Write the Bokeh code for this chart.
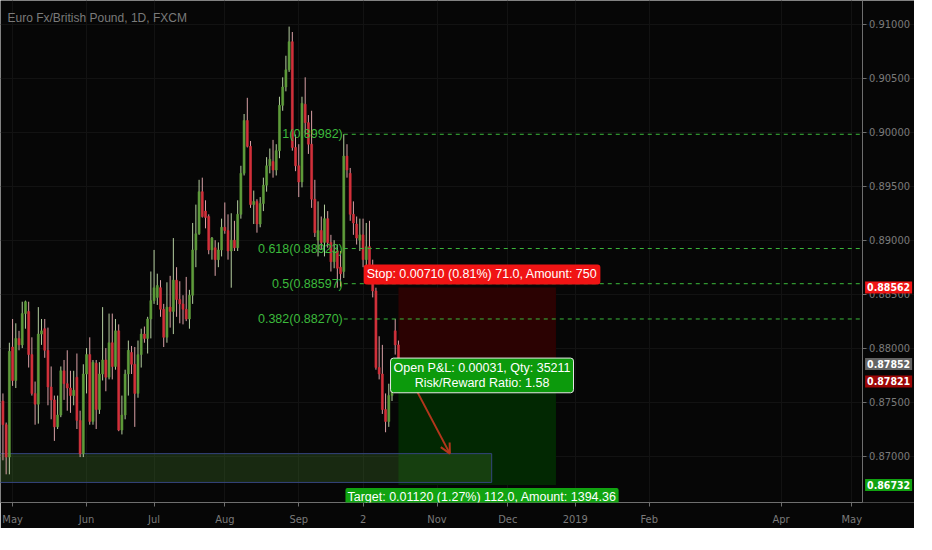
import pandas as pd
from bokeh.plotting import figure
from bokeh.models import (FixedTicker, NumeralTickFormatter, Label, Arrow, OpenHead,
                          ColumnDataSource, Range1d)
from bokeh.embed import file_html
from bokeh.resources import INLINE

# ---------------- data ----------------
title_text = "Euro Fx/British Pound, 1D, FXCM"
first_day = "2018-04-26"

opens = [0.8751, 0.8729, 0.8699, 0.8801, 0.8770, 0.8809, 0.8803, 0.8832, 0.8834, 0.8794,
         0.8758, 0.8748, 0.8813, 0.8818, 0.8798, 0.8764, 0.8752, 0.8727, 0.8738, 0.8779,
         0.8767, 0.8763, 0.8756, 0.8773, 0.8733, 0.8702, 0.8776, 0.8794, 0.8732, 0.8786,
         0.8743, 0.8776, 0.8789, 0.8773, 0.8805, 0.8783, 0.8816, 0.8724, 0.8738, 0.8776,
         0.8796, 0.8785, 0.8758, 0.8794, 0.8813, 0.8809, 0.8827, 0.8844, 0.8847, 0.8856,
         0.8836, 0.8810, 0.8838, 0.8834, 0.8863, 0.8845, 0.8841, 0.8836, 0.8827, 0.8849,
         0.8891, 0.8906, 0.8945, 0.8927, 0.8922, 0.8891, 0.8893, 0.8882, 0.8891, 0.8912,
         0.8909, 0.8890, 0.8900, 0.8893, 0.8924, 0.8962, 0.9011, 0.8987, 0.8933, 0.8936,
         0.8915, 0.8934, 0.8951, 0.8969, 0.8973, 0.8965, 0.8983, 0.9025, 0.9042, 0.9058,
         0.9084, 0.8986, 0.8969, 0.8954, 0.9026, 0.9009, 0.8989, 0.8938, 0.8900, 0.8909,
         0.8898, 0.8920, 0.8898, 0.8880, 0.8890, 0.8875, 0.8871, 0.8978, 0.8962, 0.8924,
         0.8915, 0.8900, 0.8905, 0.8882, 0.8894, 0.8876, 0.8853, 0.8782, 0.8776, 0.8743,
         0.8732, 0.8756, 0.8816, 0.8803]
highs = [0.8758, 0.8731, 0.8805, 0.8827, 0.8823, 0.8816, 0.8843, 0.8844, 0.8843, 0.8810,
         0.8769, 0.8838, 0.8827, 0.8827, 0.8819, 0.8783, 0.8756, 0.8756, 0.8783, 0.8789,
         0.8798, 0.8779, 0.8779, 0.8795, 0.8742, 0.8785, 0.8800, 0.8810, 0.8789, 0.8789,
         0.8787, 0.8838, 0.8800, 0.8832, 0.8832, 0.8827, 0.8822, 0.8756, 0.8780, 0.8807,
         0.8802, 0.8801, 0.8807, 0.8818, 0.8820, 0.8829, 0.8871, 0.8891, 0.8869, 0.8863,
         0.8841, 0.8861, 0.8867, 0.8902, 0.8875, 0.8862, 0.8849, 0.8866, 0.8854, 0.8916,
         0.8933, 0.8956, 0.8958, 0.8937, 0.8924, 0.8903, 0.8900, 0.8898, 0.8920, 0.8935,
         0.8924, 0.8925, 0.8918, 0.8937, 0.8969, 0.9017, 0.9032, 0.8992, 0.8946, 0.8938,
         0.8940, 0.8958, 0.8977, 0.8985, 0.8993, 0.8989, 0.9033, 0.9051, 0.9071, 0.9098,
         0.9093, 0.8998, 0.8989, 0.9033, 0.9051, 0.9016, 0.9020, 0.8956, 0.8936, 0.8922,
         0.8933, 0.8927, 0.8905, 0.8900, 0.8896, 0.8890, 0.89982, 0.8989, 0.8967, 0.8936,
         0.8922, 0.8920, 0.8920, 0.8916, 0.8918, 0.8882, 0.8856, 0.8811, 0.8803, 0.8758,
         0.8767, 0.8776, 0.8827, 0.8807]
lows = [0.8696, 0.8683, 0.8683, 0.8765, 0.8763, 0.8798, 0.8800, 0.8818, 0.8782, 0.8756,
        0.8729, 0.8730, 0.8803, 0.8791, 0.8747, 0.8734, 0.8714, 0.8725, 0.8736, 0.8752,
        0.8742, 0.8740, 0.8747, 0.8725, 0.8699, 0.8699, 0.8758, 0.8729, 0.8729, 0.8725,
        0.8739, 0.8770, 0.8760, 0.8771, 0.8771, 0.8780, 0.8723, 0.8720, 0.8734, 0.8756,
        0.8776, 0.8727, 0.8754, 0.8782, 0.8805, 0.8795, 0.8809, 0.8841, 0.8840, 0.8829,
        0.8801, 0.8805, 0.8819, 0.8813, 0.8829, 0.8823, 0.8822, 0.8825, 0.8818, 0.8841,
        0.8875, 0.8905, 0.8921, 0.8911, 0.8887, 0.8882, 0.8867, 0.8875, 0.8885, 0.8906,
        0.8882, 0.8856, 0.8890, 0.8890, 0.8920, 0.8960, 0.8986, 0.8930, 0.8915, 0.8907,
        0.8912, 0.8927, 0.8945, 0.8962, 0.8958, 0.8960, 0.8976, 0.9020, 0.9038, 0.9056,
        0.8983, 0.8964, 0.8940, 0.8949, 0.8998, 0.8980, 0.8930, 0.8903, 0.8885, 0.8891,
        0.8885, 0.8893, 0.8871, 0.8874, 0.8856, 0.8857, 0.8865, 0.8958, 0.8918, 0.8905,
        0.8896, 0.8890, 0.8875, 0.8875, 0.8869, 0.8847, 0.8780, 0.8771, 0.8739, 0.8722,
        0.8727, 0.8751, 0.8794, 0.8767]
closes = [0.8729, 0.8699, 0.8797, 0.8770, 0.8809, 0.8803, 0.8832, 0.8843, 0.8794, 0.8758,
          0.8748, 0.8813, 0.8816, 0.8798, 0.8764, 0.8752, 0.8727, 0.8738, 0.8779, 0.8767,
          0.8763, 0.8756, 0.8761, 0.8733, 0.8702, 0.8776, 0.8794, 0.8732, 0.8787, 0.8743,
          0.8776, 0.8789, 0.8773, 0.8805, 0.8783, 0.8816, 0.8724, 0.8738, 0.8776, 0.8798,
          0.8785, 0.8758, 0.8794, 0.8813, 0.8809, 0.8827, 0.8844, 0.8856, 0.8858, 0.8836,
          0.8810, 0.8838, 0.8834, 0.8863, 0.8845, 0.8841, 0.8836, 0.8827, 0.8849, 0.8891,
          0.8906, 0.8945, 0.8922, 0.8921, 0.8891, 0.8902, 0.8882, 0.8891, 0.8912, 0.8909,
          0.8890, 0.8900, 0.8893, 0.8924, 0.8962, 0.9011, 0.8987, 0.8933, 0.8936, 0.8915,
          0.8934, 0.8951, 0.8969, 0.8975, 0.8965, 0.8983, 0.9025, 0.9042, 0.9058, 0.9084,
          0.8986, 0.8969, 0.8954, 0.9027, 0.9009, 0.8989, 0.8938, 0.8907, 0.8909, 0.8898,
          0.8920, 0.8898, 0.8880, 0.8890, 0.8874, 0.8869, 0.8978, 0.8965, 0.8924, 0.8916,
          0.8902, 0.8905, 0.8882, 0.8894, 0.8876, 0.8853, 0.8782, 0.8776, 0.8743, 0.8732,
          0.8756, 0.8770, 0.8803, 0.87821]

month_ticks = ["2018-05-01", "2018-06-01", "2018-07-02", "2018-08-01", "2018-09-03",
               "2018-10-01", "2018-11-01", "2018-12-03", "2019-01-01", "2019-02-01",
               "2019-04-01", "2019-05-01"]
month_labels = ["May", "Jun", "Jul", "Aug", "Sep", "2", "Nov", "Dec", "2019", "Feb",
                "Apr", "May"]
price_ticks = [0.870, 0.875, 0.880, 0.885, 0.890, 0.895, 0.900, 0.905, 0.910]

fib_names = ["1", "0.618", "0.5", "0.382"]
fib_prices = [0.89982, 0.88923, 0.88597, 0.88270]
fib_anchor = "2018-09-21"

entry_price = 0.87852
stop_price = 0.88562
target_price = 0.86732
last_price = 0.87821
position_start = "2018-10-16"
position_end = "2018-12-24"

zone_top = 0.87022
zone_bottom = 0.86755
zone_start = "2018-04-02"
zone_end = "2018-11-26"

arrow_from = ("2018-10-23", 0.87643)
arrow_to = ("2018-11-07", 0.87022)

stop_text = "Stop: 0.00710 (0.81%) 71.0, Amount: 750"
pnl_text = "Open P&L: 0.00031, Qty: 35211\nRisk/Reward Ratio: 1.58"
target_text = "Target: 0.01120 (1.27%) 112.0, Amount: 1394.36"

# visible window: bars from -0.76 to the price scale at 267.2, frame continues to 283.5
view_start_day, axis_day, frame_end_day = -0.76, 267.2, 283.5
view_low, view_high = 0.86569, 0.91222

# ---------------- helpers ----------------
all_days = pd.bdate_range("2018-04-02", "2019-06-28")
origin = all_days.get_loc(pd.Timestamp(first_day))


def pos(d):
    return all_days.get_loc(pd.Timestamp(d)) - origin


BG = "#060606"
UP, DOWN = "#5e9c3a", "#d3303b"
UP_WICK, DOWN_WICK = "#b5cfa0", "#d9a0a6"
FIB = "#3cba3c"
FONT = "Liberation Sans"
AXFONT = "DejaVu Sans Condensed"

p = figure(width=914, height=528, output_backend="svg", toolbar_location=None,
           x_range=Range1d(view_start_day, frame_end_day),
           y_range=Range1d(view_low, view_high),
           y_axis_location="right", min_border=0)
p.background_fill_color = BG
p.border_fill_color = BG
p.outline_line_color = None

# position boxes (under candles)
ps, pe = pos(position_start), pos(position_end)
p.quad(left=[ps], right=[pe], top=[stop_price], bottom=[entry_price],
       fill_color="#2b0202", line_color=None)
p.quad(left=[ps], right=[pe], top=[entry_price], bottom=[target_price],
       fill_color="#022802", line_color=None)

# demand zone
p.quad(left=[pos(zone_start)], right=[pos(zone_end)], top=[zone_top], bottom=[zone_bottom],
       fill_color="#3a6a28", fill_alpha=0.36, line_color="#34457e", line_width=1)

# candles
n = len(closes)
xs = list(range(n))
up = [c >= o for o, c in zip(opens, closes)]
src = ColumnDataSource(dict(
    x=xs, o=opens, h=highs, l=lows, c=closes,
    top=[max(o, c) for o, c in zip(opens, closes)],
    bot=[min(o, c) for o, c in zip(opens, closes)],
    col=[UP if u else DOWN for u in up],
    wcol=[UP_WICK if u else DOWN_WICK for u in up],
))
p.segment(x0="x", x1="x", y0="h", y1="l", line_color="wcol", line_width=1, source=src)
p.vbar(x="x", width=0.62, top="top", bottom="bot", fill_color="col", line_color="col",
       line_width=0.6, source=src)

# fib levels
fa = pos(fib_anchor)
for name, price in zip(fib_names, fib_prices):
    p.segment(x0=[fa], x1=[axis_day], y0=[price], y1=[price], line_color=FIB,
              line_width=1, line_dash="4 4")
    p.add_layout(Label(x=fa, y=price, text=f"{name}({price:.5f})", text_align="right",
                       text_baseline="middle", x_offset=-1, text_color=FIB,
                       text_font_size="12.5px", text_font=FONT))

# arrow
p.add_layout(Arrow(x_start=pos(arrow_from[0]), y_start=arrow_from[1],
                   x_end=pos(arrow_to[0]), y_end=arrow_to[1],
                   line_color="#b3361c", line_width=2,
                   end=OpenHead(size=10, line_color="#b3361c", line_width=2)))

mid = (ps + pe) / 2 + 1.5
p.add_layout(Label(x=mid, y=stop_price, text=stop_text, text_align="center",
                   text_baseline="bottom", y_offset=3, text_color="white",
                   text_font_size="12.5px", text_font=FONT,
                   background_fill_color="#f01414", padding=3, border_radius=3))
p.add_layout(Label(x=mid, y=entry_price, text=pnl_text, text_align="center",
                   text_baseline="top", y_offset=6, text_color="white",
                   text_font_size="12.5px", text_font=FONT, text_line_height=1.05,
                   background_fill_color="#0c9a0c", border_line_color="#e8e8e8",
                   border_line_width=1, padding=3, border_radius=3))
p.add_layout(Label(x=mid, y=target_price, text=target_text, text_align="center",
                   text_baseline="top", y_offset=-3, text_color="white",
                   text_font_size="12.5px", text_font=FONT,
                   background_fill_color="#11a311", padding=2, border_radius=2))

# title
p.add_layout(Label(x=view_start_day, y=view_high, text=title_text, x_offset=7, y_offset=-17,
                   text_baseline="middle", text_color="#7a7a7a", text_font_size="12px",
                   text_font=FONT))

# axes
p.yaxis.ticker = FixedTicker(ticks=price_ticks)
p.yaxis.formatter = NumeralTickFormatter(format="0.00000")
p.yaxis.fixed_location = axis_day
p.xaxis.ticker = FixedTicker(ticks=[pos(d) for d in month_ticks])
p.xaxis.major_label_overrides = {pos(d): lab for d, lab in zip(month_ticks, month_labels)}
p.xaxis.bounds = (view_start_day, axis_day)
for ax in (p.xaxis, p.yaxis):
    ax.axis_line_color = "#6e6e6e"
    ax.major_tick_line_color = "#6e6e6e"
    ax.minor_tick_line_color = None
    ax.major_tick_out = 4
    ax.major_tick_in = 0
    ax.major_label_text_color = "#7a7a7a"
    ax.major_label_text_font_size = "11px"
    ax.major_label_text_font = AXFONT
p.yaxis.major_label_standoff = 3
p.xaxis.major_label_standoff = 6
p.xgrid.grid_line_color = "#121212"
p.ygrid.grid_line_color = "#121212"

# price tags on the right price scale (last price nudged below the entry tag)
for price, col, shift in [(stop_price, "#f01414", 0), (entry_price, "#646464", 0),
                          (last_price, "#9c0606", -14), (target_price, "#11a311", 0)]:
    p.add_layout(Label(x=axis_day, y=price, text=f"{price:.5f}", x_offset=3, y_offset=shift,
                       text_align="left", text_baseline="middle", text_color="white",
                       text_font_size="10.5px", text_font=AXFONT, text_font_style="bold",
                       background_fill_color=col, padding=2))

open("out.html", "w").write(file_html(p, INLINE))
